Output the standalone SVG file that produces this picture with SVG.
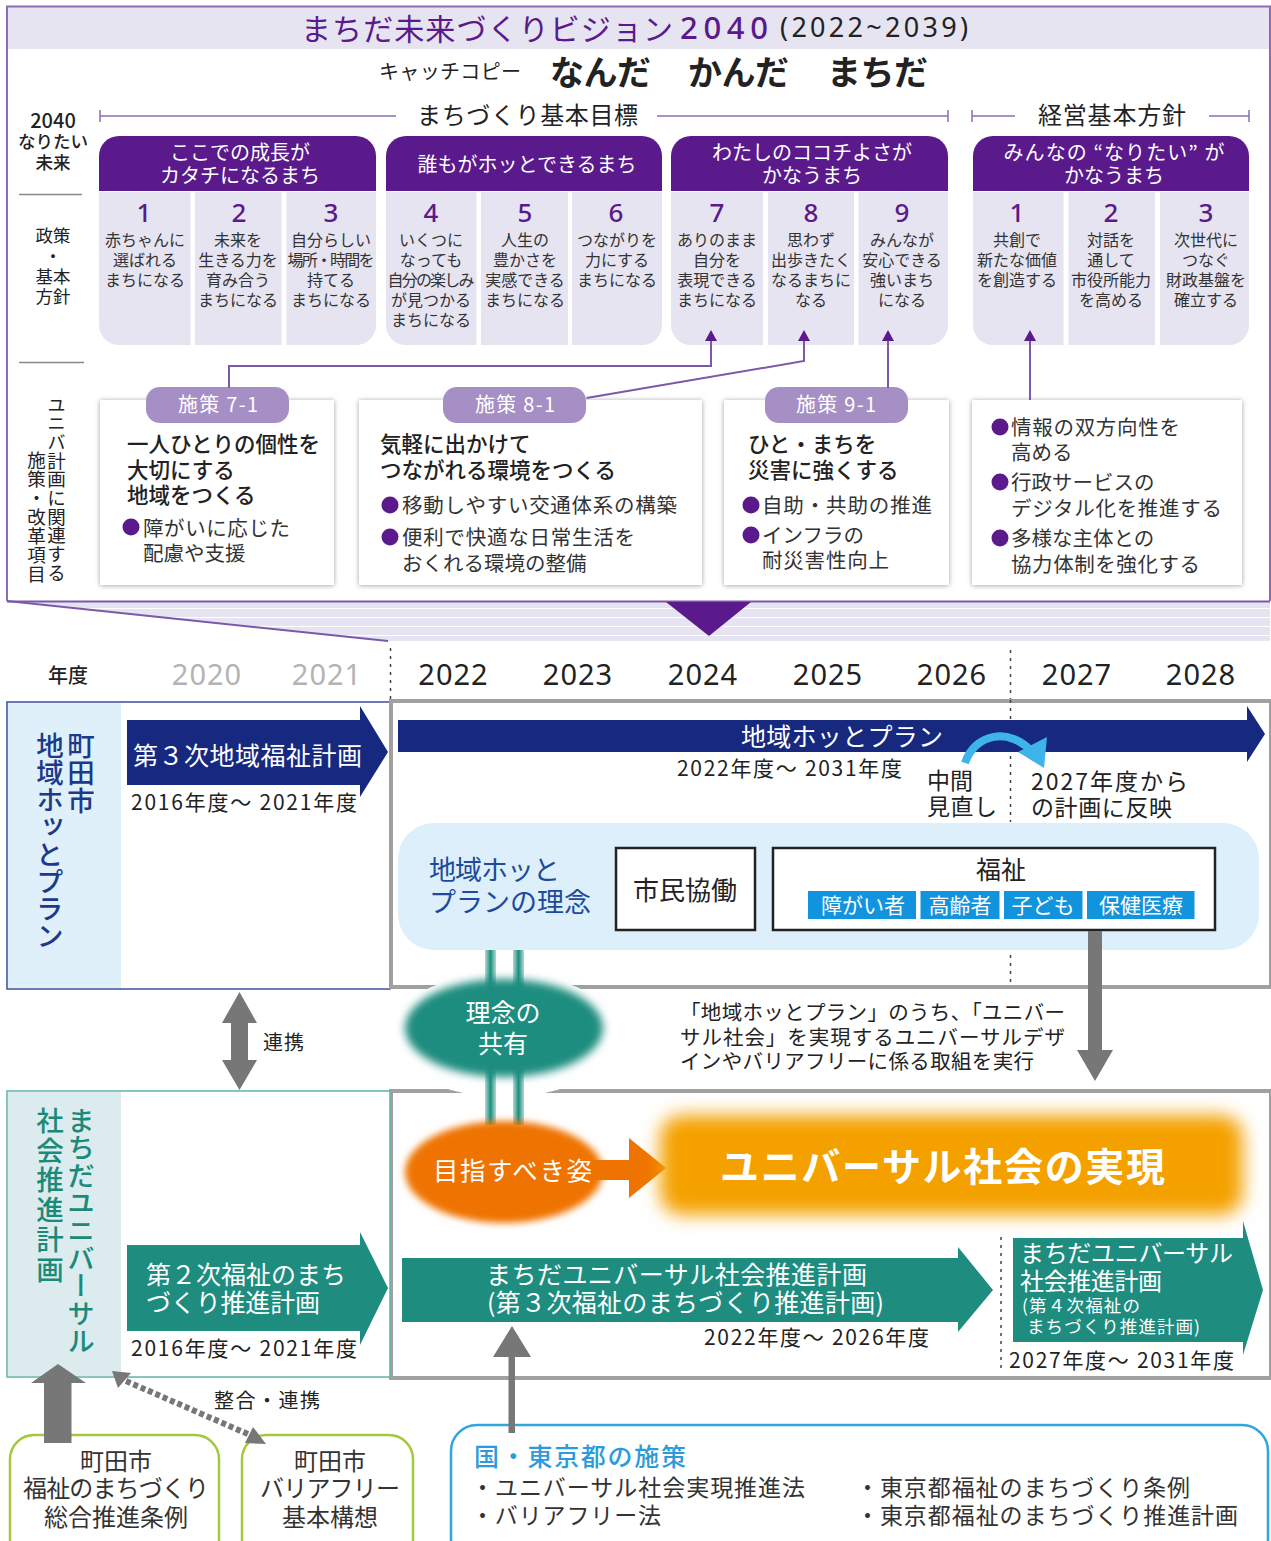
<svg xmlns="http://www.w3.org/2000/svg" width="1271" height="1541" viewBox="0 0 1271 1541">
<defs>
<style>
text{font-family:"Noto Sans CJK JP","Noto Sans",sans-serif;dominant-baseline:central;fill:#222;transform:translateY(-1.5px)}
.m{text-anchor:middle}
.w{fill:#fff}
.h{font-weight:500}
.p{fill:#5a1a8c}
.hd{fill:#5a1a8c}
.col{fill:#e6e4f1}
.cn{font-size:26px;fill:#5a1a8c;text-anchor:middle;font-family:"Noto Sans",sans-serif;font-weight:500}
.ct{font-size:16px;text-anchor:middle;fill:#333}
.ht{font-size:20px;fill:#fff;text-anchor:middle}
.card{fill:#fff;filter:url(#sh)}
.pill{fill:#a58fc5}
.pt{font-size:20px;fill:#fff;text-anchor:middle}
.ci{font-size:21.5px;font-weight:500}
.cb{font-size:20.5px;fill:#333}
.dot{fill:#5a1a8c}
.pl{fill:none;stroke:#7a5aa8;stroke-width:2}
.yr{font-family:"Noto Sans",sans-serif;font-size:29px;letter-spacing:1px;text-anchor:middle}
.per{font-size:21px}
.gf{fill:none;stroke:#a0a0a0;stroke-width:4}
.dash{fill:none;stroke:#444;stroke-width:1.5;stroke-dasharray:3 5}
.g{fill:#777}
.v{writing-mode:vertical-rl;font-weight:500}
.tab{fill:#1193dd}
.tt{font-size:21px;fill:#fff;text-anchor:middle}
.nv{fill:#16297f}
.tl{fill:#1e8d7f}
.gb{fill:#fff;stroke:#a3c93a;stroke-width:2.5}
.gbt{font-size:24px;text-anchor:middle;fill:#333}
.nt{font-size:23px;fill:#333}
</style>
<filter id="sh" x="-5%" y="-5%" width="110%" height="110%"><feDropShadow dx="0" dy="0.5" stdDeviation="2.5" flood-color="#888" flood-opacity="0.8"/></filter>
<filter id="b4" x="-20%" y="-30%" width="140%" height="160%"><feGaussianBlur stdDeviation="4"/></filter>
<filter id="b3" x="-20%" y="-30%" width="140%" height="160%"><feGaussianBlur stdDeviation="3.5"/></filter>
<filter id="b8" x="-10%" y="-30%" width="120%" height="160%"><feGaussianBlur stdDeviation="9"/></filter>
<linearGradient id="bar"><stop offset="0" stop-color="#b3dad4"/><stop offset="0.5" stop-color="#1e8d7f"/><stop offset="1" stop-color="#b3dad4"/></linearGradient>
</defs>

<g id="vision-frame">
<rect x="7" y="7" width="1263" height="42" class="col"/>
<path d="M7 601V6.500H1270V601" fill="none" stroke="#8a6db5" stroke-width="2"/>
<text x="301" y="28" font-size="30" class="p" textLength="372">まちだ未来づくりビジョン</text>
<text x="680" y="28" font-size="31" class="p" font-weight="500" textLength="88" style="font-family:'Noto Sans',sans-serif">2040</text>
<text x="780" y="28" font-size="27" textLength="188" style="font-family:'Noto Sans',sans-serif">(2022~2039)</text>
<text x="379" y="72" font-size="20" textLength="142">キャッチコピー</text>
<text x="550" y="72" font-size="34" font-weight="700" textLength="101">なんだ</text>
<text x="688" y="72" font-size="34" font-weight="700" textLength="101">かんだ</text>
<text x="827" y="72" font-size="34" font-weight="700" textLength="101">まちだ</text>
</g>

<g id="band">
<polygon points="7,601 1270,601 1270,641 388,641" class="col"/>
<path d="M80 608.500H1270M170 617.500H1270M255 626.500H1270M340 635.500H1270" stroke="#fff" stroke-width="1"/>
<path d="M7 601.500H1270" stroke="#7a5aa8" stroke-width="2"/>
<path d="M7 601L388 641" stroke="#7a5aa8" stroke-width="2"/>
<polygon points="666,602 751,602 709,636" class="hd"/>
</g>

<g id="row-labels">
<text x="53" y="121" font-size="20" class="m h">2040</text>
<text x="53" y="142" font-size="17.500" class="m h">なりたい</text>
<text x="53" y="163" font-size="17.500" class="m h">未来</text>
<path d="M19 194.500H82M19 362.500H84" stroke="#888" stroke-width="1.500"/>
<text x="53" y="236" font-size="17.500" class="m">政策</text>
<text x="53" y="257" font-size="17.500" class="m">・</text>
<text x="53" y="277" font-size="17.500" class="m">基本</text>
<text x="53" y="297" font-size="17.500" class="m">方針</text>
<text x="56.500" y="397" font-size="18.500" writing-mode="vertical-rl" letter-spacing="0.500" textLength="187">ユニバ計画に関連する</text>
<text x="36.500" y="452" font-size="18.500" writing-mode="vertical-rl" letter-spacing="0.500" textLength="133">施策・改革項目</text>
</g>

<g id="axis-headings">
<path d="M100 116H396M100 110V122M657 116H948M948 110V122M972 116H1015M972 110V122M1209 116H1249M1249 110V122" fill="none" stroke="#8a6db5" stroke-width="1.500"/>
<text x="417" y="115" font-size="24" textLength="221">まちづくり基本目標</text>
<text x="1038" y="115" font-size="24" textLength="148">経営基本方針</text>
</g>

<g id="goal-a">
<path d="M99 191V156a20 20 0 0 1 20-20H356a20 20 0 0 1 20 20V191Z" class="hd"/>
<text x="240" y="153" class="ht">ここでの成長が</text><text x="240" y="176" class="ht">カタチになるまち</text>
<path d="M99 192H190.500V345H119a20 20 0 0 1-20-20Z" class="col"/>
<rect x="195" y="192" width="86.500" height="153" class="col"/>
<path d="M286.500 192H376V325a20 20 0 0 1-20 20H286.500Z" class="col"/>
<text x="144" y="213" class="cn">1</text><text x="239" y="213" class="cn">2</text><text x="331" y="213" class="cn">3</text>
<text x="145" y="240" class="ct">赤ちゃんに</text><text x="145" y="260" class="ct">選ばれる</text><text x="145" y="280" class="ct">まちになる</text>
<text x="238" y="240" class="ct">未来を</text><text x="238" y="260" class="ct">生きる力を</text><text x="238" y="280" class="ct">育み合う</text><text x="238" y="300" class="ct">まちになる</text>
<text x="331" y="240" class="ct">自分らしい</text><text x="331" y="260" class="ct" textLength="87">場所・時間を</text><text x="331" y="280" class="ct">持てる</text><text x="331" y="300" class="ct">まちになる</text>
</g>

<g id="goal-b">
<path d="M386 191V156a20 20 0 0 1 20-20H642a20 20 0 0 1 20 20V191Z" class="hd"/>
<text x="527" y="165" class="ht">誰もがホッとできるまち</text>
<path d="M386 192H476.500V345H406a20 20 0 0 1-20-20Z" class="col"/>
<rect x="481" y="192" width="87" height="153" class="col"/>
<path d="M572 192H662V325a20 20 0 0 1-20 20H572Z" class="col"/>
<text x="431" y="213" class="cn">4</text><text x="525" y="213" class="cn">5</text><text x="616" y="213" class="cn">6</text>
<text x="431" y="240" class="ct">いくつに</text><text x="431" y="260" class="ct">なっても</text><text x="431" y="280" class="ct" textLength="87">自分の楽しみ</text><text x="431" y="300" class="ct">が見つかる</text><text x="431" y="320" class="ct">まちになる</text>
<text x="525" y="240" class="ct">人生の</text><text x="525" y="260" class="ct">豊かさを</text><text x="525" y="280" class="ct">実感できる</text><text x="525" y="300" class="ct">まちになる</text>
<text x="617" y="240" class="ct">つながりを</text><text x="617" y="260" class="ct">力にする</text><text x="617" y="280" class="ct">まちになる</text>
</g>

<g id="goal-c">
<path d="M671 191V156a20 20 0 0 1 20-20H928a20 20 0 0 1 20 20V191Z" class="hd"/>
<text x="812" y="153" class="ht">わたしのココチよさが</text><text x="812" y="176" class="ht">かなうまち</text>
<path d="M671 192H763V345H691a20 20 0 0 1-20-20Z" class="col"/>
<rect x="768" y="192" width="86" height="153" class="col"/>
<path d="M858.500 192H948V325a20 20 0 0 1-20 20H858.500Z" class="col"/>
<text x="717" y="213" class="cn">7</text><text x="811" y="213" class="cn">8</text><text x="902" y="213" class="cn">9</text>
<text x="717" y="240" class="ct">ありのまま</text><text x="717" y="260" class="ct">自分を</text><text x="717" y="280" class="ct">表現できる</text><text x="717" y="300" class="ct">まちになる</text>
<text x="811" y="240" class="ct">思わず</text><text x="811" y="260" class="ct">出歩きたく</text><text x="811" y="280" class="ct">なるまちに</text><text x="811" y="300" class="ct">なる</text>
<text x="902" y="240" class="ct">みんなが</text><text x="902" y="260" class="ct">安心できる</text><text x="902" y="280" class="ct">強いまち</text><text x="902" y="300" class="ct">になる</text>
</g>

<g id="goal-d">
<path d="M973 191V156a20 20 0 0 1 20-20H1229a20 20 0 0 1 20 20V191Z" class="hd"/>
<text x="1114" y="153" class="ht" textLength="221">みんなの “なりたい” が</text><text x="1114" y="176" class="ht">かなうまち</text>
<path d="M973 192H1063.500V345H993a20 20 0 0 1-20-20Z" class="col"/>
<rect x="1068.500" y="192" width="86.500" height="153" class="col"/>
<path d="M1160 192H1249V325a20 20 0 0 1-20 20H1160Z" class="col"/>
<text x="1017" y="213" class="cn">1</text><text x="1111" y="213" class="cn">2</text><text x="1206" y="213" class="cn">3</text>
<text x="1017" y="240" class="ct">共創で</text><text x="1017" y="260" class="ct">新たな価値</text><text x="1017" y="280" class="ct">を創造する</text>
<text x="1111" y="240" class="ct">対話を</text><text x="1111" y="260" class="ct">通して</text><text x="1111" y="280" class="ct">市役所能力</text><text x="1111" y="300" class="ct">を高める</text>
<text x="1206" y="240" class="ct">次世代に</text><text x="1206" y="260" class="ct">つなぐ</text><text x="1206" y="280" class="ct">財政基盤を</text><text x="1206" y="300" class="ct">確立する</text>
</g>

<g id="card-7-1">
<rect x="100" y="400" width="234" height="185" class="card"/>
<rect x="146" y="387" width="143" height="36" rx="14" class="pill"/>
<text x="218" y="405" class="pt" textLength="80">施策 7-1</text>
<text x="127" y="444" class="ci" textLength="193">一人ひとりの個性を</text>
<text x="127" y="470" class="ci">大切にする</text>
<text x="127" y="495" class="ci">地域をつくる</text>
<circle cx="131" cy="527" r="8.500" class="dot"/>
<text x="143" y="528" class="cb" textLength="147">障がいに応じた</text>
<text x="143" y="553" class="cb">配慮や支援</text>
</g>

<g id="card-8-1">
<rect x="359" y="400" width="343" height="185" class="card"/>
<rect x="443" y="387" width="143" height="36" rx="14" class="pill"/>
<text x="515" y="405" class="pt" textLength="80">施策 8-1</text>
<text x="380" y="444" class="ci">気軽に出かけて</text>
<text x="380" y="470" class="ci" textLength="236">つながれる環境をつくる</text>
<circle cx="390" cy="505" r="8.500" class="dot"/>
<text x="402" y="505" class="cb" textLength="275">移動しやすい交通体系の構築</text>
<circle cx="390" cy="537" r="8.500" class="dot"/>
<text x="402" y="537" class="cb" textLength="233">便利で快適な日常生活を</text>
<text x="402" y="563" class="cb">おくれる環境の整備</text>
</g>

<g id="card-9-1">
<rect x="724" y="400" width="225" height="185" class="card"/>
<rect x="765" y="387" width="143" height="36" rx="14" class="pill"/>
<text x="836" y="405" class="pt" textLength="80">施策 9-1</text>
<text x="748" y="444" class="ci">ひと・まちを</text>
<text x="748" y="470" class="ci">災害に強くする</text>
<circle cx="751" cy="505" r="8.500" class="dot"/>
<text x="762" y="505" class="cb" textLength="170">自助・共助の推進</text>
<circle cx="751" cy="535" r="8.500" class="dot"/>
<text x="762" y="535" class="cb">インフラの</text>
<text x="762" y="560" class="cb" textLength="127">耐災害性向上</text>
</g>

<g id="card-policy">
<rect x="972" y="400" width="270" height="185" class="card"/>
<circle cx="1000" cy="427" r="8.500" class="dot"/>
<text x="1011" y="427" class="cb" textLength="169">情報の双方向性を</text>
<text x="1011" y="452" class="cb">高める</text>
<circle cx="1000" cy="482" r="8.500" class="dot"/>
<text x="1011" y="482" class="cb">行政サービスの</text>
<text x="1011" y="508" class="cb" textLength="211">デジタル化を推進する</text>
<circle cx="1000" cy="538" r="8.500" class="dot"/>
<text x="1011" y="538" class="cb">多様な主体との</text>
<text x="1011" y="564" class="cb" textLength="189">協力体制を強化する</text>
</g>

<g id="years">
<path d="M390.500 648V700" class="dash"/>
<path d="M1010.500 650V700" class="dash"/>
<text x="68" y="676" font-size="20" class="m h">年度</text>
<text x="207" y="675" class="yr" style="fill:#b3b3b3">2020</text>
<text x="327" y="675" class="yr" style="fill:#b3b3b3">2021</text>
<text x="453.500" y="675" class="yr">2022</text>
<text x="578" y="675" class="yr">2023</text>
<text x="703" y="675" class="yr">2024</text>
<text x="828" y="675" class="yr">2025</text>
<text x="952" y="675" class="yr">2026</text>
<text x="1077" y="675" class="yr">2027</text>
<text x="1201" y="675" class="yr">2028</text>
</g>

<g id="hot-plan-panel">
<rect x="7" y="702" width="383" height="287" fill="#fff" stroke="#3b4ea0" stroke-width="1.500"/>
<rect x="8" y="703" width="113" height="285" fill="#dff0fa"/>
<text x="81" y="733" font-size="27.500" class="v" style="fill:#1d3a8a">町田市</text>
<text x="50" y="733" font-size="27.500" class="v" style="fill:#1d3a8a" textLength="218">地域ホッとプラン</text>
<polygon points="127,720 360,720 360,706 388,752 360,797 360,785 127,785" class="nv"/>
<text x="133" y="755" font-size="25" class="w" textLength="229">第３次地域福祉計画</text>
<text x="131" y="802" class="per" textLength="226">2016年度～ 2021年度</text>
</g>

<g id="plan-frames">
<rect x="391" y="701" width="880" height="286" class="gf"/>
<rect x="391" y="1091" width="880" height="287" class="gf"/>
<path d="M1010.500 700V822M1010.500 955V982" class="dash"/>
</g>

<g id="hot-plan-arrow">
<polygon points="398,720 1247,720 1247,706 1265,734 1247,762 1247,752 398,752" class="nv"/>
<text x="741" y="736" font-size="25" class="w" textLength="202">地域ホッとプラン</text>
<text x="677" y="768" class="per" textLength="225">2022年度～ 2031年度</text>
<path d="M965 763C975 733 1010 727 1032 752" fill="none" stroke="#3db4ea" stroke-width="8"/>
<polygon points="1047,737 1044,768 1018,752" fill="#3db4ea"/>
<text x="927" y="780" font-size="23">中間</text>
<text x="927" y="806" font-size="23" textLength="70">見直し</text>
<text x="1031" y="781" font-size="23" textLength="157">2027年度から</text>
<text x="1031" y="807" font-size="23" textLength="141">の計画に反映</text>
</g>

<g id="hot-plan-concept">
<rect x="398" y="823" width="861" height="127" rx="36" fill="#ddeffa"/>
<text x="429" y="870" font-size="27" style="fill:#1d4a9a" textLength="131">地域ホッと</text>
<text x="429" y="902" font-size="27" style="fill:#1d4a9a" textLength="162">プランの理念</text>
</g>

<g id="citizen">
<rect x="616" y="848" width="139" height="82" fill="#fff" stroke="#222" stroke-width="2.500"/>
<text x="685" y="890" font-size="26" class="m" textLength="104">市民協働</text>
</g>

<g id="welfare">
<rect x="773" y="848" width="442" height="82" fill="#fff" stroke="#222" stroke-width="2.500"/>
<text x="1001" y="869" font-size="25" class="m">福祉</text>
<rect x="808" y="891" width="108" height="28" class="tab"/><text x="863" y="905" class="tt">障がい者</text>
<rect x="920.500" y="891" width="79" height="28" class="tab"/><text x="960" y="905" class="tt">高齢者</text>
<rect x="1004" y="891" width="78.500" height="28" class="tab"/><text x="1043" y="905" class="tt">子ども</text>
<rect x="1087" y="891" width="107.500" height="28" class="tab"/><text x="1141" y="905" class="tt">保健医療</text>
</g>

<g id="shared-vision">
<ellipse cx="504" cy="1035" rx="115" ry="62" fill="#fff"/>
<rect x="485" y="950" width="11" height="175" fill="url(#bar)"/>
<rect x="513" y="950" width="11" height="175" fill="url(#bar)"/>
<ellipse cx="504" cy="1028" rx="99" ry="49" class="tl" filter="url(#b4)"/>
<text x="503" y="1012" font-size="25" class="m w">理念の</text>
<text x="503" y="1043" font-size="25" class="m w">共有</text>
</g>

<g id="note">
<text x="680" y="1012" font-size="20.500" textLength="385">「地域ホッとプラン」のうち、「ユニバー</text>
<text x="680" y="1037" font-size="20.500" textLength="385">サル社会」を実現するユニバーサルデザ</text>
<text x="680" y="1061" font-size="20.500" textLength="354">インやバリアフリーに係る取組を実行</text>
</g>

<g id="universal-plan-panel">
<rect x="7" y="1091" width="383" height="286" fill="#fff" stroke="#5fb5a8" stroke-width="1.500"/>
<rect x="8" y="1092" width="113" height="284" fill="#dcecee"/>
<text x="81" y="1108" font-size="27.500" class="v" style="fill:#1b8a7a" textLength="248">まちだユニバーサル</text>
<text x="50" y="1108" font-size="27.500" class="v" style="fill:#1b8a7a" textLength="177">社会推進計画</text>
<polygon points="127,1245 360,1245 360,1232 388,1288 360,1345 360,1331 127,1331" class="tl"/>
<text x="146" y="1274" font-size="25" class="w" textLength="200">第２次福祉のまち</text>
<text x="146" y="1302" font-size="25" class="w" textLength="174">づくり推進計画</text>
<text x="131" y="1348" class="per" textLength="226">2016年度～ 2021年度</text>
</g>

<g id="goal-state">
<ellipse cx="504" cy="1172" rx="99" ry="51" fill="#ef7300" filter="url(#b3)"/>
<polygon points="590,1160 629,1160 629,1138 666,1168 629,1198 629,1180 590,1180" fill="#ef7300"/>
<text x="433" y="1170" font-size="25.500" class="w" textLength="159">目指すべき姿</text>
</g>

<g id="universal-society">
<rect x="660" y="1115" width="583" height="100" rx="22" fill="#f4a100" filter="url(#b8)"/>
<text x="720" y="1165" font-size="39" font-weight="700" class="w" textLength="445">ユニバーサル社会の実現</text>
</g>

<g id="plan-3">
<polygon points="402,1258 958,1258 958,1247 993,1290 958,1332 958,1322 402,1322" class="tl"/>
<text x="486" y="1274" font-size="25" class="w" textLength="381">まちだユニバーサル社会推進計画</text>
<text x="487" y="1302" font-size="25" class="w" textLength="397">(第３次福祉のまちづくり推進計画)</text>
<text x="704" y="1337" class="per" textLength="225">2022年度～ 2026年度</text>
</g>

<g id="plan-4">
<path d="M1001 1237V1372" class="dash"/>
<polygon points="1013,1238 1243,1238 1243,1221 1263,1290 1243,1355 1243,1342 1013,1342" class="tl"/>
<text x="1020" y="1253" font-size="24" class="w" textLength="213">まちだユニバーサル</text>
<text x="1020" y="1281" font-size="24" class="w" textLength="142">社会推進計画</text>
<text x="1022" y="1306" font-size="17.500" class="w" textLength="118">(第４次福祉の</text>
<text x="1027" y="1327" font-size="17.500" class="w" textLength="173">まちづくり推進計画)</text>
<text x="1009" y="1360" class="per" textLength="225">2027年度～ 2031年度</text>
</g>

<g id="ordinance">
<rect x="10" y="1435" width="209" height="130" rx="24" class="gb"/>
<text x="116" y="1461" class="gbt">町田市</text>
<text x="116" y="1488" class="gbt" textLength="186">福祉のまちづくり</text>
<text x="116" y="1517" class="gbt">総合推進条例</text>
</g>

<g id="barrier-free">
<rect x="242" y="1435" width="171" height="130" rx="24" class="gb"/>
<text x="330" y="1461" class="gbt">町田市</text>
<text x="330" y="1488" class="gbt" textLength="140">バリアフリー</text>
<text x="330" y="1517" class="gbt">基本構想</text>
</g>

<g id="national-tokyo">
<rect x="451" y="1425" width="817" height="140" rx="26" fill="#fff" stroke="#2fa6e0" stroke-width="2.500"/>
<text x="474" y="1456" font-size="25" font-weight="500" style="fill:#2b9bdc" textLength="212">国・東京都の施策</text>
<text x="471" y="1487" class="nt" textLength="334">・ユニバーサル社会実現推進法</text>
<text x="471" y="1515" class="nt" textLength="190">・バリアフリー法</text>
<text x="856" y="1487" class="nt" textLength="334">・東京都福祉のまちづくり条例</text>
<text x="856" y="1515" class="nt" textLength="382">・東京都福祉のまちづくり推進計画</text>
</g>

<g id="connectors">
<path d="M711 340V366H229V388" class="pl"/>
<path d="M804 340V361L586.500 398" class="pl"/>
<path d="M888 340V388" class="pl"/>
<path d="M1030 340V400" class="pl"/>
<path d="M705 341L711 330L717 341ZM798 341L804 330L810 341ZM882 341L888 330L894 341ZM1024 341L1030 330L1036 341Z" class="hd"/>
<polygon points="1088,931 1102,931 1102,1050 1113,1050 1095,1081 1077,1050 1088,1050" class="g"/>
<polygon points="239.500,992 257,1023 248,1023 248,1060 257,1060 239.500,1090 222,1060 231,1060 231,1023 222,1023" class="g"/>
<text x="263" y="1043" font-size="20" textLength="41">連携</text>
<polygon points="58,1364 86,1383 71.500,1383 71.500,1443 44,1443 44,1383 31,1383" class="g"/>
<path d="M126 1381L250 1435" fill="none" stroke="#777" stroke-width="6" stroke-dasharray="5 3"/>
<polygon points="112,1371 131,1373 118,1388" class="g"/>
<polygon points="266,1444 253,1427 245,1443" class="g"/>
<text x="214" y="1401" font-size="20" textLength="106">整合・連携</text>
<polygon points="512,1326 531,1357 515,1357 515,1433 508.500,1433 508.500,1357 493,1357" class="g"/>
</g>
</svg>
